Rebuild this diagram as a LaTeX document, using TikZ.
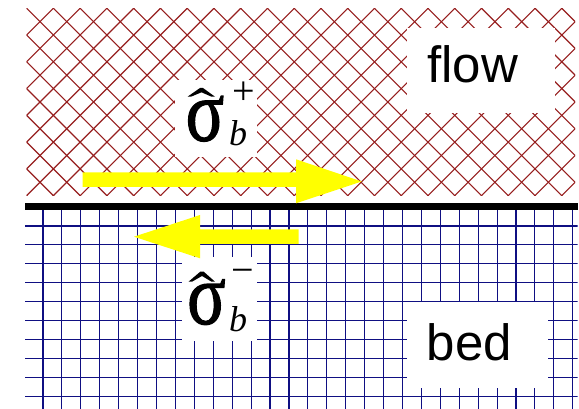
\documentclass[tikz,border=0pt]{standalone}
\usepackage{fontspec}
\setmainfont{Liberation Serif}
\newfontfamily\labelfont{Liberation Sans}
\newfontfamily\greekfont[FakeBold=1.5]{Liberation Serif}
\usepackage{graphicx}
\definecolor{hatchred}{RGB}{150,30,30}
\definecolor{gridblue}{RGB}{15,15,130}
\definecolor{arrowyellow}{RGB}{255,255,0}
\begin{document}
\begin{tikzpicture}[x=1pt,y=-1pt,
  hatchline/.style={draw=hatchred,line width=1.1pt},
  gridline/.style={draw=gridblue,line width=1.1pt},
  blank/.style={fill=white},
  region/.style={font=\labelfont\fontsize{51}{51}\selectfont,inner sep=0pt,anchor=base west},
  sigmaglyph/.style={inner sep=0pt,anchor=south west},
  subglyph/.style={inner sep=0pt,anchor=base west,font=\itshape\fontsize{36}{36}\selectfont},
  signglyph/.style={inner sep=0pt,anchor=base,font=\fontsize{40}{40}\selectfont},
  bigarrow/.style={fill=arrowyellow}]
\useasboundingbox (0,0) rectangle (579,409);
% flow: cross hatch
\begin{scope}
  \clip (26.7,8.3) rectangle (575.2,195.6);
  \foreach \n in {-8,...,21} {
    \pgfmathsetmacro\c{18.3+26.76*\n}
    \draw[hatchline] (\c-10,-10) -- (\c+210,210);
  }
  \foreach \n in {-1,...,28} {
    \pgfmathsetmacro\c{61.7+26.76*\n}
    \draw[hatchline] (\c+10,-10) -- (\c-210,210);
  }
\end{scope}
\fill[blank] (407,28) rectangle (555,113);
\fill[blank] (175,80) rectangle (256.7,156.7);
% bed: square grid
\begin{scope}
  \clip (25,210) rectangle (577.5,409);
  \foreach \k in {0,...,28}
    \draw[gridline] (43+18.92*\k,210) -- (43+18.92*\k,409);
  \foreach \k in {0,...,9}
    \draw[gridline] (25,226+18.92*\k) -- (577.5,226+18.92*\k);
\end{scope}
\fill[blank] (407,302) rectangle (548.3,387.5);
\fill[blank] (181.7,256.7) rectangle (256.7,340.8);
% interface
\fill[black] (25,202.7) rectangle (577.5,210);
% arrows
\fill[bigarrow] (82.7,172.5) -- (296,172.5) -- (296,159.3) -- (361.7,181.5)
  -- (296,203.3) -- (296,187) -- (82.7,187) -- cycle;
\fill[bigarrow] (298.7,229.3) -- (200,229.3) -- (200,215) -- (134,236.7)
  -- (200,258.3) -- (200,244) -- (298.7,244) -- cycle;
% labels
\node[region] (flow) at (427,83) {flow};
\node[region] (bed) at (426.5,360) {bed};
\node[sigmaglyph] (sigP) at (185.5,141.7) {\scalebox{0.82}[1]{\greekfont\fontsize{87}{87}\selectfont σ}};
\node[sigmaglyph] (sigM) at (187,325) {\scalebox{0.82}[1]{\greekfont\fontsize{87}{87}\selectfont σ}};
\fill (187.5,96.7) -- (200,88) -- (203,88) -- (215,96.7) -- (211.5,96.7)
  -- (201.5,92.3) -- (191,96.7) -- cycle;
\fill (188.5,281.7) -- (200.5,271.5) -- (203.5,271.5) -- (215,281.7) -- (211.5,281.7)
  -- (202,276) -- (192,281.7) -- cycle;
\node[subglyph] (bP) at (229,146) {b};
\node[subglyph] (bM) at (229,331) {b};
\node[signglyph] (plus) at (243.3,104.2) {+};
\node[signglyph] (minus) at (243,283.3) {−};
\end{tikzpicture}
\end{document}
